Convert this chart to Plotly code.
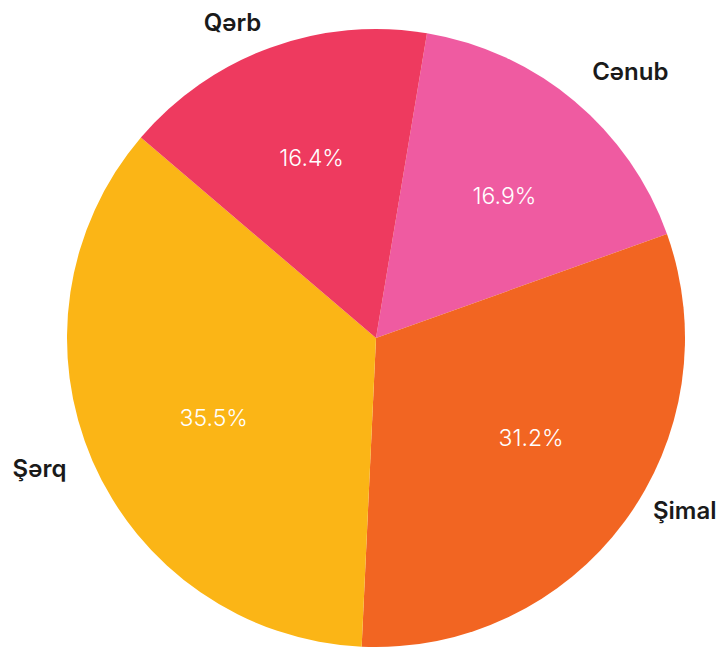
import plotly.graph_objects as go

labels = ["Cənub", "Şimal", "Şərq", "Qərb"]
values = [16.9, 31.2, 35.5, 16.4]
colors = ["#EF5BA1", "#F26522", "#FBB516", "#EE3A5F"]

W, H = 724, 653
cx, cy, r = 368, 330, 309
NB = "\u00a0"


def domain(rad):
    return dict(x=[(cx - rad) / W, (cx + rad) / W],
                y=[max(0, (H - cy - rad) / H), min(1, (H - cy + rad) / H)])


# percentage text (inside) with small whitespace nudges
pct = "%{percent:.1%}"
pct_templates = [
    NB + "<br>" + pct + NB,          # Cənub
    NB * 6 + pct,                    # Şimal
    NB + "<br>" + pct + NB * 4,      # Şərq
    NB + "<br>" + NB * 2 + pct,      # Qərb
]

fig = go.Figure()
fig.add_trace(go.Pie(
    labels=labels, values=values, sort=False, direction="clockwise", rotation=9.5,
    marker=dict(colors=colors, line=dict(width=0)),
    textposition="inside", insidetextorientation="horizontal",
    texttemplate=pct_templates, automargin=False,
    insidetextfont=dict(family="Inter", size=23, color="white", weight=300),
    domain=domain(r), showlegend=False, hoverinfo="skip",
))

# category labels (outside), one transparent layer per label
label_layers = [
    (0, NB + "%{label}" + NB + "<br>" + NB, 304),
    (1, "%{label}" + NB + "<br>" + NB + "<br>" + NB, 316),
    (2, NB + "%{label}" + NB, 323),
    (3, NB + "%{label}" + "<br>" + NB, 291),
]
for idx, tmpl, rad in label_layers:
    tt = [tmpl if i == idx else "" for i in range(len(labels))]
    fig.add_trace(go.Pie(
        labels=labels, values=values, sort=False, direction="clockwise", rotation=9.5,
        marker=dict(colors=["rgba(0,0,0,0)"] * len(labels), line=dict(width=0)),
        textposition="outside", texttemplate=tt, automargin=False,
        outsidetextfont=dict(family="Inter", size=24, color="#1a1a1a", weight=600),
        domain=domain(rad), showlegend=False, hoverinfo="skip",
    ))

fig.update_layout(width=W, height=H,
                  margin=dict(l=0, r=0, t=0, b=0, pad=0, autoexpand=False),
                  paper_bgcolor="white", plot_bgcolor="white")
fig.write_html("out.html")
